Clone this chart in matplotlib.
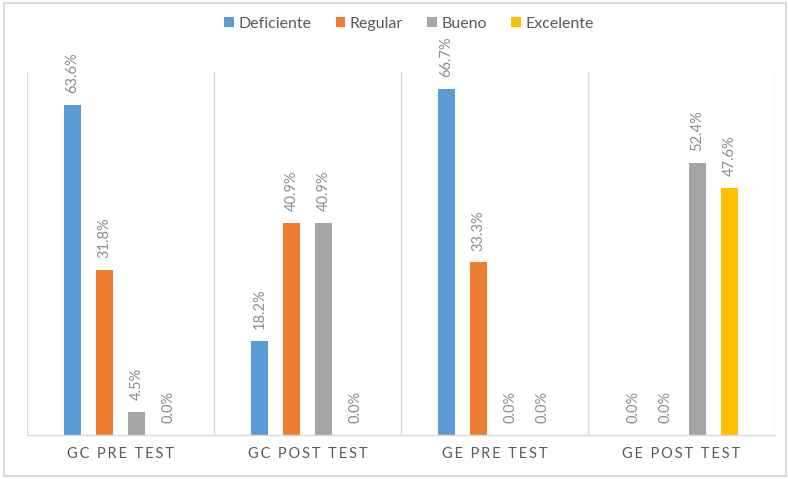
import matplotlib.pyplot as plt
import numpy as np
from matplotlib.patches import Rectangle

# Data
categories = ["GC PRE TEST", "GC POST TEST", "GE PRE TEST", "GE POST TEST"]
series_names = ["Deficiente", "Regular", "Bueno", "Excelente"]
deficiente = [63.6, 18.2, 66.7, 0.0]
regular = [31.8, 40.9, 33.3, 0.0]
bueno = [4.5, 40.9, 0.0, 52.4]
excelente = [0.0, 0.0, 0.0, 47.6]

colors = ["#5B9BD5", "#ED7D31", "#A5A5A5", "#FFC000"]
text_gray = "#595959"
line_gray = "#D9D9D9"

plt.rcParams['font.family'] = ['Lato', 'DejaVu Sans']


def spaced(label):
    # Excel-style letter spacing on the category labels
    return "\u2009".join(label)


def main():
    fig = plt.figure(figsize=(7.88, 4.79), dpi=100)
    ax = fig.add_axes([27 / 788, 1 - 435 / 479, 748 / 788, 363 / 479])

    # outer chart border
    fig.patches.append(Rectangle((4 / 788, 3 / 479), 782 / 788, 473 / 479,
                                 transform=fig.transFigure, fill=False,
                                 edgecolor=line_gray, linewidth=1.5))

    x = np.arange(len(categories))
    offsets = [-0.257, -0.086, 0.086, 0.257]
    width = 0.091
    all_series = [deficiente, regular, bueno, excelente]

    for vals, off, col, name in zip(all_series, offsets, colors, series_names):
        bars = ax.bar(x + off, vals, width, color=col, label=name)
        for bar, v in zip(bars, vals):
            ax.annotate(f"{v:.1f}%", (bar.get_x() + bar.get_width() / 2, v),
                        xytext=(0, 8.5), textcoords="offset points",
                        rotation=90, ha="center", va="bottom",
                        fontsize=10.5, color="#8C8C8C")

    ax.set_xlim(-0.5, len(categories) - 0.5)
    ax.set_ylim(0, 70)
    ax.set_yticks([])
    ax.set_xticks(x)
    ax.set_xticklabels([spaced(c) for c in categories], fontsize=10.5,
                       color=text_gray)
    ax.tick_params(axis="x", length=0, pad=9)

    # category separators
    for b in np.arange(-0.5, len(categories), 1.0):
        ax.axvline(b, color=line_gray, linewidth=1, zorder=0)
    for side in ["top", "left", "right"]:
        ax.spines[side].set_visible(False)
    ax.spines["bottom"].set_color(line_gray)
    ax.spines["bottom"].set_linewidth(1)

    fig.legend(loc="center", bbox_to_anchor=(409 / 788, 1 - 24 / 479), ncol=4,
               frameon=False, fontsize=11.5, labelcolor=text_gray,
               handlelength=0.6, handleheight=0.6, handletextpad=0.3,
               columnspacing=1.5)

    fig.savefig("out.png", dpi=100)
    plt.close(fig)


if __name__ == "__main__":
    main()
